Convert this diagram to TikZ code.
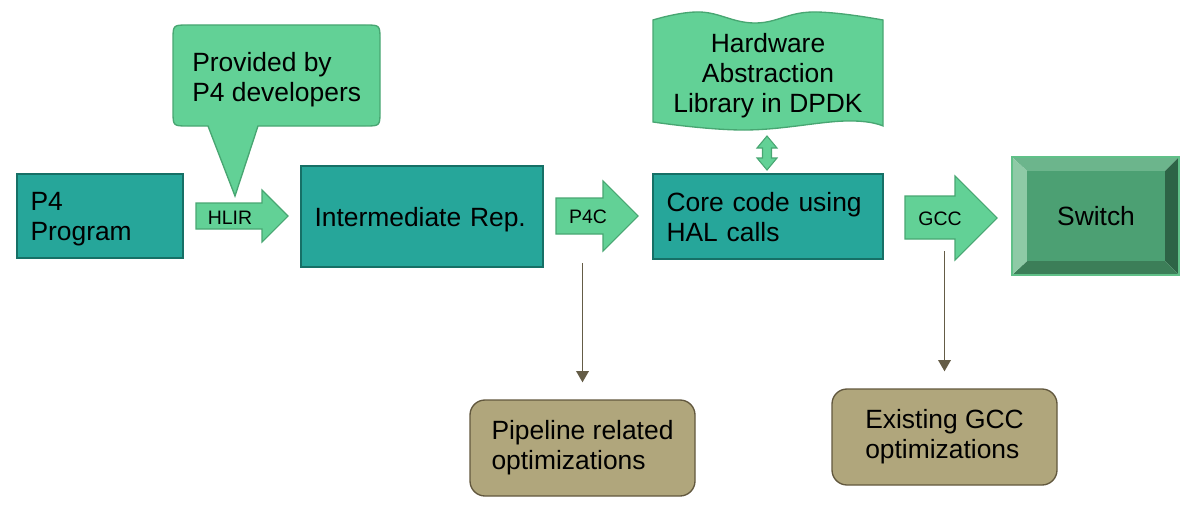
\documentclass[tikz,border=0pt]{standalone}
\usepackage{fontspec}
\setmainfont{Liberation Sans}
\usetikzlibrary{arrows.meta, positioning}
\definecolor{tealfill}{RGB}{38,166,154}
\definecolor{tealline}{RGB}{22,112,102}
\definecolor{greenfill}{RGB}{98,209,150}
\definecolor{greenline}{RGB}{72,166,114}
\definecolor{olivefill}{RGB}{176,166,124}
\definecolor{oliveline}{RGB}{98,88,62}
\definecolor{arrowline}{RGB}{100,92,70}
\definecolor{swface}{RGB}{76,160,115}
\definecolor{swtop}{RGB}{108,181,140}
\definecolor{swleft}{RGB}{142,202,166}
\definecolor{swright}{RGB}{45,100,70}
\definecolor{swbottom}{RGB}{60,126,88}
\definecolor{swline}{RGB}{96,192,136}
\tikzset{
    txt/.style={font=\fontsize{19.8}{22.5}\selectfont, inner sep=0pt},
    boxed/.style={execute at begin node={\rule{0pt}{19pt}}, execute at end node={\rule[-4.7pt]{0pt}{4.7pt}}},
    tealbox/.style={rectangle, draw=tealline, fill=tealfill, line width=1pt, align=left, inner xsep=10.125pt, inner ysep=0pt, txt, boxed},
    olivebox/.style={rectangle, draw=oliveline, fill=olivefill, line width=1pt, rounded corners=11.25pt, align=left, minimum width=168.75pt, minimum height=72pt, txt, boxed},
    fat/.style={draw=greenline, fill=greenfill, line width=0.8pt},
    fatlabel/.style={font=\fontsize{14.6}{16}\selectfont, inner sep=0pt},
    thinarrow/.style={draw=arrowline, line width=1.1pt, -{Triangle[width=9.5pt, length=8.5pt]}, shorten >=12.75pt}
}
% fat arrow: tail x, body top, body bottom, head base x, head top, head bottom, tip x
\newcommand\fatarrow[7]{\draw[fat] (#1,#2) -- (#4,#2) -- (#4,#5) -- (#7,{(#5+#6)/2}) -- (#4,#6) -- (#4,#3) -- (#1,#3) -- cycle;}
\begin{document}
\begin{tikzpicture}[x=0.75pt, y=-0.75pt]
    \useasboundingbox (0,0) rectangle (1194,510);

    % main chain
    \node (p4) [tealbox, minimum width=124.5pt, minimum height=63pt, text width=104.25pt] at (100,216) {P4\\Program};
    \node (ir) [tealbox, minimum width=181.5pt, minimum height=75.75pt, text width=161.25pt] at (422,216.5) {Intermediate Rep.};
    \node (core) [tealbox, minimum width=172.5pt, minimum height=63.75pt, text width=152.25pt] at (768,216.5) {Core code using\\HAL calls};

    % switch with bevel
    \fill[swtop] (1012,157) -- (1179,157) -- (1165,171) -- (1027,171) -- cycle;
    \fill[swright] (1179,157) -- (1179,275) -- (1165,261) -- (1165,171) -- cycle;
    \fill[swbottom] (1179,275) -- (1012,275) -- (1027,261) -- (1165,261) -- cycle;
    \fill[swleft] (1012,275) -- (1012,157) -- (1027,171) -- (1027,261) -- cycle;
    \draw[swline, line width=1pt] (1012,157) rectangle (1179,275);
    \node (switch) [rectangle, fill=swface, minimum width=103.5pt, minimum height=67.5pt, txt, boxed] at (1096,216) {Switch};

    % fat arrows
    \fatarrow{196}{203}{229}{262}{190}{242}{288}
    \node (hlir) [fatlabel] at (230,217.5) {HLIR};
    \fatarrow{556}{198}{234}{603}{181}{251}{638}
    \node (p4c) [fatlabel] at (588,216.5) {P4C};
    \fatarrow{905}{196}{239}{955}{176}{260}{997}
    \node (gcc) [fatlabel] at (940,218.3) {GCC};

    % callout
    \draw[fat, line width=1pt] (235,196) -- (208,126) -- (188,126) .. controls (173,126) .. (173,111)
        -- (173,40) .. controls (173,25) .. (188,25) -- (365,25) .. controls (380,25) .. (380,40)
        -- (380,111) .. controls (380,126) .. (365,126) -- (258,126) -- cycle;
    \node (note) [txt, align=left, anchor=north west] at (192,52) {Provided by\\P4 developers};

    % hardware abstraction library
    \draw[fat, line width=1pt] plot[smooth, tension=0.7] coordinates {(653,20) (700,12) (755,23) (812,12) (883,20)}
        -- plot[smooth, tension=0.7] coordinates {(883,126) (845,121) (745,130) (653,122)} -- cycle;
    \node (hal) [txt, align=center, anchor=north] at (768,33) {Hardware\\Abstraction\\Library in DPDK};
    \draw[fat] (767,136) -- (777,148) -- (771.5,148) -- (771.5,158) -- (777,158) -- (767,170)
        -- (757,158) -- (762.5,158) -- (762.5,148) -- (757,148) -- cycle;

    % optimizations
    \node (pipe) [olivebox] at (582.5,448) {Pipeline related\\optimizations};
    \node (gccopt) [olivebox] at (944.5,437) {Existing GCC\\optimizations};
    \coordinate (p4cfoot) at (582.5,263);
    \coordinate (gccfoot) at (944.5,251);
    \draw[thinarrow] (p4cfoot) -- (pipe.north);
    \draw[thinarrow] (gccfoot) -- (gccopt.north);
\end{tikzpicture}
\end{document}
